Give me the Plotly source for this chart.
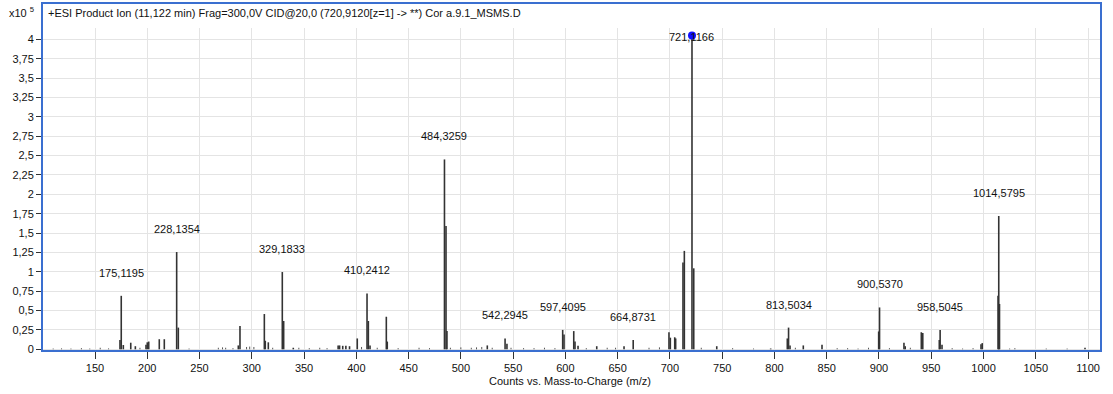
import plotly.graph_objects as go

# Peak list: m/z and intensity (x10^5 counts)
mz = [
    173.9, 175.1195, 177.1, 184.2, 188.6, 198.8, 200.0, 201.4, 211.5, 216.3,
    228.1354, 229.7, 287.1, 288.7, 312.0, 312.9, 315.8, 329.1833, 330.5, 339.7,
    382.6, 384.0, 387.0, 390.0, 393.5, 400.9, 410.2412, 411.5, 413.1, 428.7,
    429.6, 484.3259, 485.8, 486.7, 525.3, 542.2945, 544.1,
    597.4095, 598.7, 608.0, 609.2, 612.1, 630.0, 656.1, 664.8731,
    699.1, 700.4, 704.6, 705.5, 712.5, 713.8, 721.1166, 722.8, 744.8, 796.4,
    812.3, 813.5034, 814.9, 827.6, 845.5, 899.7, 900.5370, 923.9, 925.1,
    940.5, 941.9, 957.7, 958.5045, 960.3, 997.6, 998.8, 1013.9, 1014.5795,
    1015.3, 1097.1,
]
intensity = [
    0.12, 0.69, 0.055, 0.085, 0.04, 0.06, 0.09, 0.10, 0.13, 0.13,
    1.255, 0.28, 0.05, 0.30, 0.455, 0.11, 0.09, 0.997, 0.365, 0.02,
    0.05, 0.05, 0.045, 0.045, 0.04, 0.14, 0.72, 0.365, 0.05, 0.42,
    0.10, 2.45, 1.59, 0.235, 0.05, 0.14, 0.07,
    0.25, 0.19, 0.235, 0.10, 0.045, 0.04, 0.04, 0.12,
    0.22, 0.15, 0.155, 0.14, 1.12, 1.27, 4.05, 1.045, 0.04, 0.01,
    0.14, 0.28, 0.05, 0.05, 0.06, 0.23, 0.54, 0.085, 0.04,
    0.22, 0.21, 0.12, 0.25, 0.06, 0.065, 0.08, 0.69, 1.72,
    0.585, 0.02,
]
# small baseline noise peaks
noise_mz = [110, 118, 127, 137, 145, 155, 163, 193, 240, 268, 272, 275, 282, 295,
            298, 302, 320, 345, 355, 365, 372, 405, 420, 440, 460, 470, 490, 500,
            510, 515, 520, 530, 548, 560, 570, 580, 590, 620, 640, 648, 680, 690,
            730, 760, 780, 820, 860, 870, 880, 890, 910, 930, 970, 980, 990, 1025,
            1030, 1060, 1080]
noise_int = [0.01, 0.012, 0.01, 0.015, 0.01, 0.02, 0.012, 0.02, 0.01, 0.02, 0.025, 0.02,
             0.015, 0.03, 0.035, 0.03, 0.02, 0.02, 0.015, 0.02, 0.015, 0.03, 0.02, 0.015,
             0.02, 0.015, 0.02, 0.025, 0.02, 0.025, 0.03, 0.02, 0.02, 0.015, 0.015, 0.02,
             0.015, 0.015, 0.02, 0.02, 0.02, 0.025, 0.02, 0.015, 0.01, 0.02, 0.015, 0.015,
             0.01, 0.02, 0.015, 0.02, 0.015, 0.01, 0.015, 0.01, 0.015, 0.01, 0.01]

labels = ["175,1195", "228,1354", "329,1833", "410,2412", "484,3259", "542,2945",
          "597,4095", "664,8731", "721,1166", "813,5034", "900,5370", "958,5045",
          "1014,5795"]
label_mz = [175.1195, 228.1354, 329.1833, 410.2412, 484.3259, 542.2945, 597.4095,
            664.8731, 721.1166, 813.5034, 900.5370, 958.5045, 1014.5795]
label_int = [0.69, 1.255, 0.997, 0.72, 2.45, 0.14, 0.25, 0.12, 4.05, 0.28, 0.54, 0.25, 1.72]

yticks = [i * 0.25 for i in range(17)]
ytick_text = [("%g" % v).replace(".", ",") for v in yticks]
xticks = list(range(150, 1101, 50))

FONT = "Arial, Liberation Sans, sans-serif"

def sticks(xs, ys):
    X, Y = [], []
    for a, b in zip(xs, ys):
        X += [a, a, None]
        Y += [0, b, None]
    return X, Y

fig = go.Figure()
nx, ny = sticks(noise_mz, noise_int)
fig.add_trace(go.Scatter(x=nx, y=ny, mode="lines", line=dict(color="#555555", width=1),
                         hoverinfo="skip", showlegend=False))
px_, py_ = sticks(mz, intensity)
fig.add_trace(go.Scatter(x=px_, y=py_, mode="lines", line=dict(color="#333333", width=1.6),
                         hoverinfo="skip", showlegend=False))
# precursor marker
fig.add_trace(go.Scatter(x=[label_mz[8]], y=[label_int[8]], mode="markers",
                         marker=dict(color="#1010ff", size=8, symbol="circle"),
                         hoverinfo="skip", showlegend=False))

for t, m, h in zip(labels, label_mz, label_int):
    fig.add_annotation(x=m, y=min(h + 0.297, 4.03), text=t, showarrow=False,
                       xanchor="center", yanchor="middle",
                       font=dict(family=FONT, size=11, color="#111111"))

# header texts
fig.add_annotation(xref="paper", yref="paper", x=0.0035, y=1.047, text=
                   "+ESI Product Ion (11,122 min) Frag=300,0V CID@20,0 (720,9120[z=1] -> **) Cor a.9.1_MSMS.D",
                   showarrow=False, xanchor="left", yanchor="middle",
                   font=dict(family=FONT, size=11, color="#111111"))
fig.add_annotation(xref="paper", yref="paper", x=-0.006, y=1.05, text="x10 <sup>5</sup>",
                   showarrow=False, xanchor="right", yanchor="middle",
                   font=dict(family=FONT, size=11, color="#111111"))
# x axis title
fig.add_annotation(xref="paper", yref="paper", x=0.499, y=-0.093,
                   text="Counts vs. Mass-to-Charge (m/z)", showarrow=False,
                   xanchor="center", yanchor="middle",
                   font=dict(family=FONT, size=11, color="#111111"))

# blue frame
fig.add_shape(type="rect", xref="paper", yref="paper", x0=0, x1=1, y0=0, y1=1.0774,
              line=dict(color="#3a6fd0", width=2), fillcolor="rgba(0,0,0,0)", layer="above")

fig.update_layout(
    width=1113, height=394,
    margin=dict(l=42, r=12, t=28, b=43, autoexpand=False),
    paper_bgcolor="white", plot_bgcolor="white",
    font=dict(family=FONT, size=11, color="#111111"),
    xaxis=dict(range=[99.3, 1112.4], tickvals=xticks, ticktext=[str(v) for v in xticks],
               showgrid=True, gridcolor="#e4e4e4", gridwidth=1, zeroline=False,
               ticks="outside", ticklen=7, tickcolor="#333333", showline=True,
               linecolor="#555555", linewidth=1, automargin=False),
    yaxis=dict(range=[-0.022, 4.146], tickvals=yticks, ticktext=ytick_text,
               showgrid=True, gridcolor="#e4e4e4", gridwidth=1, zeroline=False,
               ticks="outside", ticklen=5, tickcolor="#333333", showline=True,
               linecolor="#555555", linewidth=1, automargin=False),
)

fig.write_html("out.html")
